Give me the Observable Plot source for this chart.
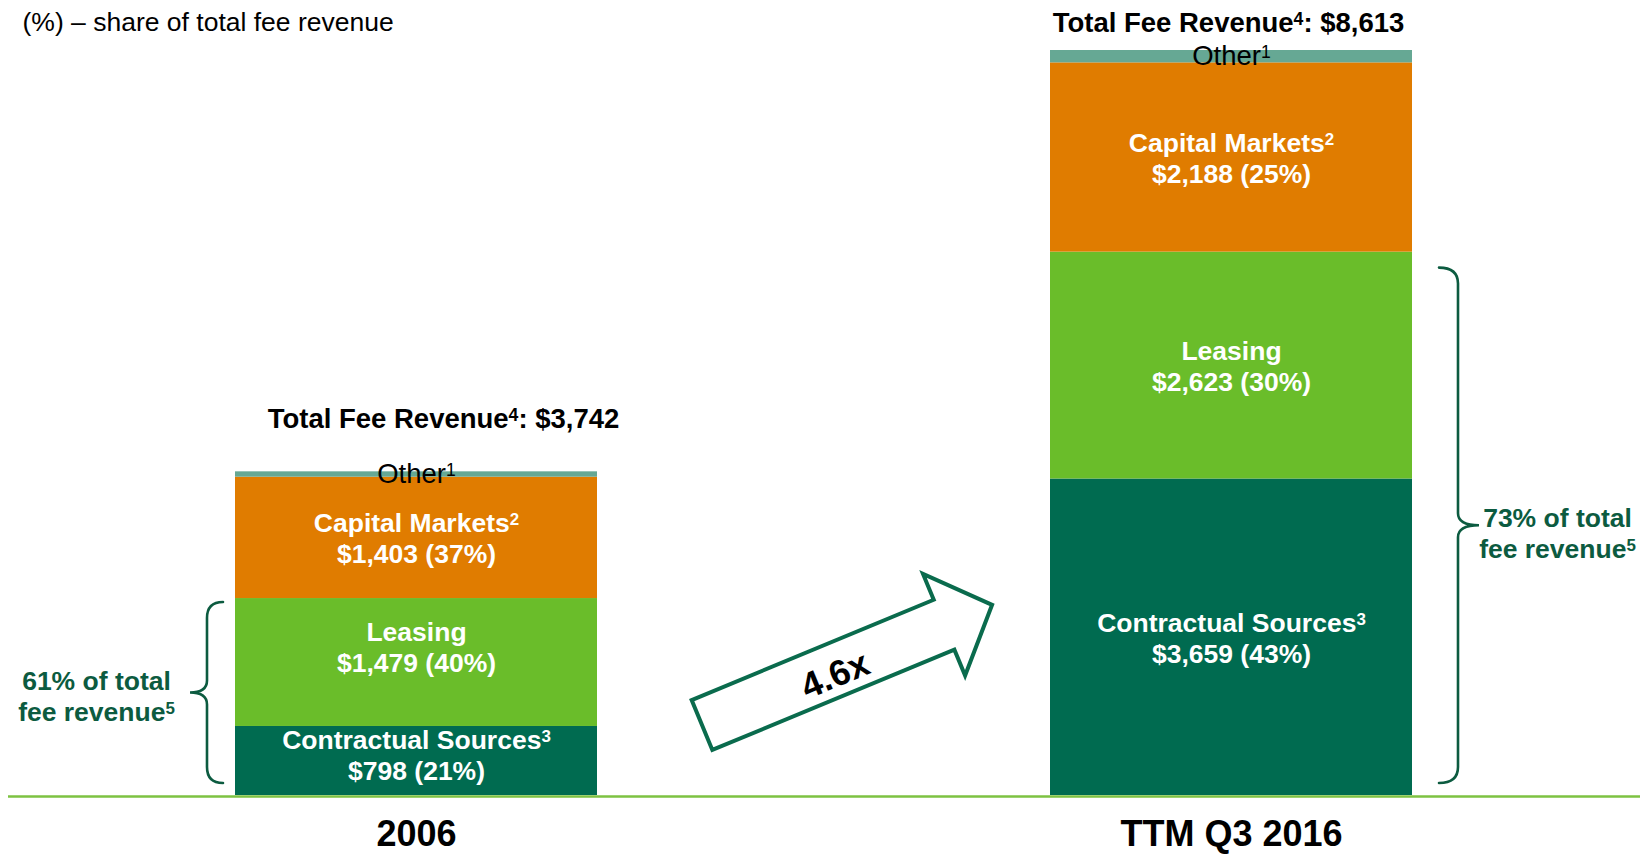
<!DOCTYPE html>
<html>
<head>
<meta charset="utf-8">
<script src="https://cdn.jsdelivr.net/npm/d3@7"></script>
<script src="https://cdn.jsdelivr.net/npm/@observablehq/plot@0.6"></script>
<style>
  html, body { margin: 0; padding: 0; background: #ffffff; }
  #chart { width: 1648px; height: 854px; overflow: hidden; }
</style>
</head>
<body>
<div id="chart"></div>
<script>
// ---------- data ----------
const periods = ["2006", "TTM Q3 2016"];
const segments = ["Contractual Sources", "Leasing", "Capital Markets", "Other"];
const segmentLabels = ["Contractual Sources³", "Leasing", "Capital Markets²", "Other¹"];
const contractual = [798, 3659];
const leasing = [1479, 2623];
const capitalMarkets = [1403, 2188];
const other = [62, 143];
const contractualPct = [21, 43];
const leasingPct = [40, 30];
const capitalMarketsPct = [37, 25];
const totals = [3742, 8613];
const shareOfTotal = ["61%", "73%"];
const growthLabel = "4.6x";
const subtitle = "(%) – share of total fee revenue";
const segmentColors = ["#006B50", "#6ABD2A", "#E07C00", "#66A894"];

// ---------- tables built from the arrays ----------
const fmt = d3.format(",");
const segmentValues = [contractual, leasing, capitalMarkets, other];
const segmentPcts = [contractualPct, leasingPct, capitalMarketsPct, null];
const rows = [];
periods.forEach((p, i) => {
  segments.forEach((s, j) => {
    const v = segmentValues[j][i];
    const pct = segmentPcts[j];
    rows.push({
      period: p, segment: s, value: v,
      label: pct ? `${segmentLabels[j]}\n$${fmt(v)} (${pct[i]}%)` : segmentLabels[j]
    });
  });
});
const totalRows = periods.map((p, i) => ({
  period: p, total: totals[i], core: contractual[i] + leasing[i], share: shareOfTotal[i]
}));

const FONT = "'Liberation Sans', Arial, Helvetica, sans-serif";
const BRACE = "#0C5B40";
const stackBase = {x: "period", y: "value", z: "segment", order: segments};
const whiteLabel = {fill: "white", fontSize: 26.5, fontWeight: "bold", lineHeight: 1.17, lineAnchor: "middle"};

function segText(test, extra) {
  return Plot.text(rows, Plot.stackY({...stackBase, text: d => test(d) ? d.label : null, ...extra}));
}

// braces + growth arrow, positioned through the plot's scales
function annotations(index, scales) {
  const x = scales.x, y = scales.y;
  const bw = typeof x.bandwidth === "function" ? x.bandwidth() : x.bandwidth;
  const g = d3.create("svg:g");
  const specs = [
    {i: 0, side: -1, topInset: 4, botInset: 12, gap: 12, depth: 16, point: 17},
    {i: 1, side: 1, topInset: 16, botInset: 12, gap: 27, depth: 19, point: 21}
  ];
  for (const b of specs) {
    const p = periods[b.i];
    const edge = b.side < 0 ? x(p) : x(p) + bw;
    const xt = edge + b.side * b.gap;
    const xs = xt + b.side * b.depth;
    const xp = xs + b.side * b.point;
    const y0 = y(contractual[b.i] + leasing[b.i]) + b.topInset;
    const y1 = y(0) - b.botInset;
    const ym = (y0 + y1) / 2;
    const r = 16, r2 = 12;
    const d = `M${xt},${y0} Q${xs},${y0} ${xs},${y0 + r} L${xs},${ym - r2} Q${xs},${ym} ${xp},${ym} ` +
              `Q${xs},${ym} ${xs},${ym + r2} L${xs},${y1 - r} Q${xs},${y1} ${xt},${y1}`;
    g.append("path").attr("d", d).attr("fill", "none").attr("stroke", BRACE)
      .attr("stroke-width", 2.6).attr("stroke-linecap", "round");
  }
  // growth arrow between the bars
  const sx = x(periods[0]) + bw + 105, sy = y(0) - 70;
  const L = 314, hw = 27, hh = 55, hl = 52;
  const pts = [[0, -hw], [L - hl, -hw], [L - hl, -hh], [L, 0], [L - hl, hh], [L - hl, hw], [0, hw]];
  const ag = g.append("g").attr("transform", `translate(${sx},${sy}) rotate(-22.5)`);
  ag.append("path").attr("d", "M" + pts.map(q => q.join(",")).join("L") + "Z")
    .attr("fill", "white").attr("stroke", "#0A6B4D").attr("stroke-width", 4).attr("stroke-linejoin", "miter");
  ag.append("text").attr("x", 142).attr("y", 4).attr("dy", "0.35em").attr("text-anchor", "middle")
    .attr("font-size", 36).attr("font-weight", "bold").attr("fill", "black").text(growthLabel);
  return g.node();
}

const chart = Plot.plot({
  width: 1648,
  height: 854,
  marginLeft: 0,
  marginRight: 0,
  marginTop: 50,
  marginBottom: 59,
  style: {fontFamily: FONT, background: "white", overflow: "visible"},
  x: {domain: periods, paddingInner: 0.5554, paddingOuter: 0.2878, axis: null},
  y: {domain: [0, d3.max(totals)], axis: null},
  color: {domain: segments, range: segmentColors},
  marks: [
    Plot.barY(rows, {x: "period", y: "value", fill: "segment", order: segments}),
    Plot.ruleY([0], {stroke: "#7DC242", strokeWidth: 2.5, insetLeft: 8, insetRight: 8, dy: 1}),
    // segment labels
    segText(d => d.segment !== "Other" && !(d.period === periods[0] && (d.segment === "Leasing" || d.segment === "Contractual Sources")), whiteLabel),
    segText(d => d.period === periods[0] && d.segment === "Leasing", {...whiteLabel, dy: -16}),
    segText(d => d.period === periods[0] && d.segment === "Contractual Sources", {...whiteLabel, dy: -6}),
    segText(d => d.segment === "Other", {fill: "black", fontSize: 27.5, lineAnchor: "middle"}),
    // totals
    Plot.text(totalRows, {filter: d => d.period === periods[0], x: "period", y: "total",
      text: d => `Total Fee Revenue⁴: $${fmt(d.total)}`, lineAnchor: "bottom", dx: 27, dy: -44,
      fontSize: 27.5, fontWeight: "bold", fill: "black"}),
    Plot.text(totalRows, {filter: d => d.period === periods[1], x: "period", y: "total",
      text: d => `Total Fee Revenue⁴: $${fmt(d.total)}`, lineAnchor: "bottom", dx: -3, dy: -19,
      fontSize: 27.5, fontWeight: "bold", fill: "black"}),
    // share-of-total annotations beside the braces
    Plot.text(totalRows, {filter: d => d.period === periods[0], x: "period", y: d => d.core / 2,
      text: d => `${d.share} of total\nfee revenue⁵`, dx: -320, dy: -1, lineAnchor: "middle",
      fontSize: 26.5, fontWeight: "bold", fill: BRACE, lineHeight: 1.17}),
    Plot.text(totalRows, {filter: d => d.period === periods[1], x: "period", y: d => d.core / 2,
      text: d => `${d.share} of total\nfee revenue⁵`, dx: 326, dy: 9, lineAnchor: "middle",
      fontSize: 26.5, fontWeight: "bold", fill: BRACE, lineHeight: 1.17}),
    // category labels under the bars
    Plot.text(periods, {x: d => d, text: d => d, frameAnchor: "bottom", lineAnchor: "top", dy: 25,
      fontSize: 36, fontWeight: "bold", fill: "black"}),
    // subtitle
    Plot.text([subtitle], {text: d => d, frameAnchor: "top-left", textAnchor: "start", lineAnchor: "bottom",
      dx: 22, dy: -20, fontSize: 26.5, fill: "black"}),
    annotations
  ]
});

// render footnote markers as real superscript tspans
const supMap = {"¹": "1", "²": "2", "³": "3", "⁴": "4", "⁵": "5"};
const supRe = /[¹²³⁴⁵]/;
(function applySuperscripts(root) {
  const walker = document.createTreeWalker(root, NodeFilter.SHOW_TEXT);
  const nodes = [];
  while (walker.nextNode()) if (supRe.test(walker.currentNode.nodeValue)) nodes.push(walker.currentNode);
  for (const node of nodes) {
    const frag = document.createDocumentFragment();
    for (const part of node.nodeValue.split(/([¹²³⁴⁵])/)) {
      if (!part) continue;
      if (supMap[part]) {
        const t = document.createElementNS("http://www.w3.org/2000/svg", "tspan");
        t.style.fontSize = "64%";
        t.setAttribute("baseline-shift", "0.42em");
        t.textContent = supMap[part];
        frag.appendChild(t);
      } else {
        frag.appendChild(document.createTextNode(part));
      }
    }
    node.parentNode.replaceChild(frag, node);
  }
})(chart);

document.getElementById("chart").appendChild(chart);
</script>
</body>
</html>
